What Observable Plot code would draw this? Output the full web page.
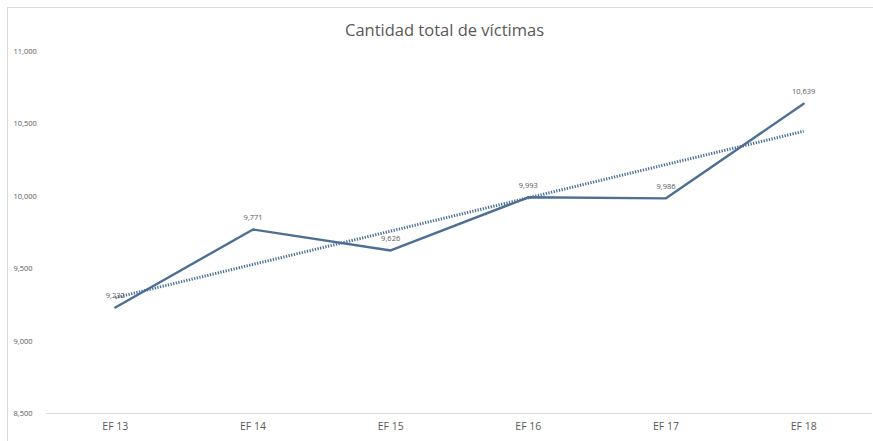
<!DOCTYPE html>
<html>
<head>
<meta charset="utf-8">
<script src="https://cdn.jsdelivr.net/npm/d3@7"></script>
<script src="https://cdn.jsdelivr.net/npm/@observablehq/plot@0.6"></script>
<style>
  html, body { margin: 0; padding: 0; background: #fff; }
  body { width: 873px; height: 441px; overflow: hidden; position: relative; font-family: "Open Sans", "Liberation Sans", sans-serif; }
  #frame { position: absolute; left: 7px; top: 7px; width: 900px; height: 500px; border-left: 1px solid #d9d9d9; border-top: 1px solid #d9d9d9; pointer-events: none; }
  #title { height: 40px; line-height: 20px; padding-top: 20px; box-sizing: border-box; text-align: center; font-size: 16.5px; color: #595959; padding-left: 16px; }
  svg { display: block; }
</style>
</head>
<body>
<div id="frame"></div>
<div id="title">Cantidad total de víctimas</div>
<div id="chart"></div>
<script>
const categories = ["EF 13", "EF 14", "EF 15", "EF 16", "EF 17", "EF 18"];
const values = [9232, 9771, 9626, 9993, 9986, 10639];
const yTicks = [8500, 9000, 9500, 10000, 10500, 11000];

const data = categories.map((c, i) => ({i, cat: c, value: values[i]}));
const fmt = d3.format(",");
const lineColor = "#4d6f94";
const textColor = "#595959";

const chart = Plot.plot({
  width: 873,
  height: 401,
  marginLeft: 46,
  marginRight: 1,
  marginTop: 11,
  marginBottom: 28,
  style: { fontFamily: "'Open Sans', 'Liberation Sans', sans-serif", background: "transparent" },
  x: { domain: [-0.5, categories.length - 0.5] },
  y: { domain: [8500, 11000] },
  marks: [
    Plot.ruleY([8500], { stroke: "#d9d9d9", strokeWidth: 1.2 }),
    Plot.axisY({
      ticks: yTicks,
      tickSize: 0,
      tickPadding: 0,
      textAnchor: "start",
      dx: -33,
      fontSize: 7.5,
      fill: textColor,
      tickFormat: fmt,
      label: null
    }),
    Plot.axisX({
      ticks: d3.range(categories.length),
      tickFormat: i => categories[i],
      tickSize: 0,
      tickPadding: 9,
      fontSize: 10.5,
      fill: textColor,
      label: null
    }),
    Plot.line(data, { x: "i", y: "value", stroke: lineColor, strokeWidth: 2.4 }),
    Plot.linearRegressionY(data, { x: "i", y: "value", stroke: lineColor, strokeWidth: 3, strokeDasharray: "1.3 1.4", strokeLinecap: "butt", ci: 0 }),
    Plot.text(data, { x: "i", y: "value", text: d => fmt(d.value), dy: -12, fontSize: 7.5, fill: textColor })
  ]
});
document.getElementById("chart").appendChild(chart);
</script>
</body>
</html>
